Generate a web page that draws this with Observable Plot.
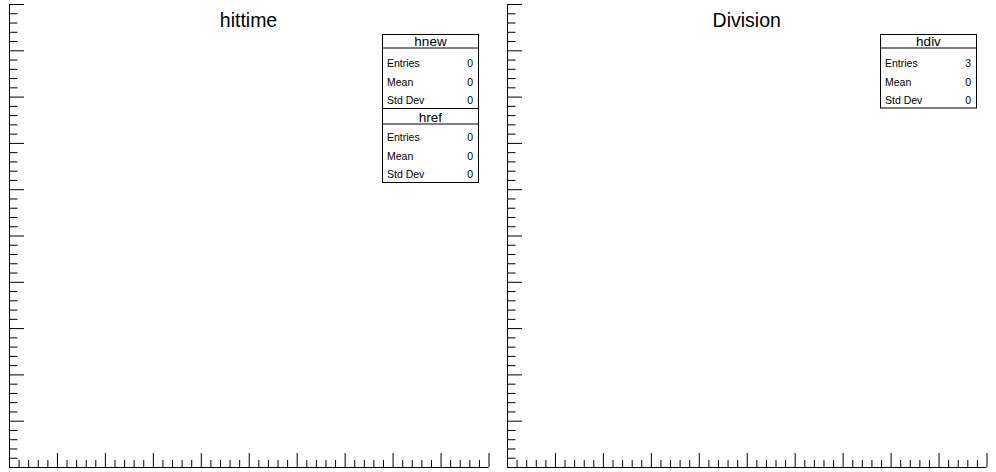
<!DOCTYPE html>
<html>
<head>
<meta charset="utf-8">
<script src="https://cdn.jsdelivr.net/npm/d3@7"></script>
<script src="https://cdn.jsdelivr.net/npm/@observablehq/plot@0.6"></script>
<style>
  html, body { margin: 0; padding: 0; background: #fff; }
  #canvas { position: relative; width: 996px; height: 472px; overflow: hidden; font-family: "Liberation Sans", Arial, Helvetica, sans-serif; }
  #canvas > svg, #canvas > div { position: absolute; top: 0; }
</style>
</head>
<body>
<div id="canvas"></div>
<script>
// ---- data ----
const padTitles = ["hittime", "Division"];
const xDomain = [0, 10];
const yDomain = [0, 10];
const xMajorTicks = d3.range(0, 10.001, 1);
const xMinorTicks = d3.range(0, 10.001, 0.2).filter(v => Math.abs(v - Math.round(v)) > 1e-6);
const yMajorTicks = d3.range(0, 10.001, 1);
const yMinorTicks = d3.range(0, 10.001, 0.2).filter(v => Math.abs(v - Math.round(v)) > 1e-6);

const statNames = ["hnew", "href", "hdiv"];
const statLabels = ["Entries", "Mean", "Std Dev"];
const hnewStats = [0, 0, 0];
const hrefStats = [0, 0, 0];
const hdivStats = [3, 0, 0];

// ---- pads ----
const W = 996, H = 472, padW = 498;
const mL = 9, mR = 9.5, mT = 4, mB = 5;
const innerW = padW - mL - mR, innerH = H - mT - mB;
const canvas = document.getElementById("canvas");

padTitles.forEach((t, i) => {
  const chart = Plot.plot({
    width: padW, height: H,
    marginLeft: mL, marginRight: mR, marginTop: mT, marginBottom: mB,
    x: {domain: xDomain, axis: null},
    y: {domain: yDomain, axis: null},
    style: {background: "transparent", overflow: "visible"},
    marks: [
      Plot.ruleX([xDomain[0]], {stroke: "black", strokeWidth: 1}),
      Plot.ruleY([yDomain[0]], {stroke: "black", strokeWidth: 1}),
      Plot.tickX(xMajorTicks, {x: d => d, stroke: "black", insetTop: innerH - 14}),
      Plot.tickX(xMinorTicks, {x: d => d, stroke: "black", insetTop: innerH - 7}),
      Plot.tickY(yMajorTicks, {y: d => d, stroke: "black", insetRight: innerW - 15}),
      Plot.tickY(yMinorTicks, {y: d => d, stroke: "black", insetRight: innerW - 8.5})
    ]
  });
  chart.style.left = (i * padW) + "px";
  canvas.appendChild(chart);
});

// ---- overlay: titles and statistics boxes ----
const svg = d3.select(canvas).append("svg")
  .attr("width", W).attr("height", H)
  .style("left", "0px")
  .style("font-family", '"Liberation Sans", Arial, Helvetica, sans-serif');

padTitles.forEach((t, i) => {
  svg.append("text")
    .attr("x", i === 0 ? 248.5 : 746.7)
    .attr("y", 27)
    .attr("text-anchor", "middle")
    .attr("font-size", 19.5)
    .attr("fill", "black")
    .text(t);
});

const boxes = [
  {name: statNames[0], values: hnewStats, x: 382.5, y: 34.5, h: 74, titleH: 13.5, titleBase: 11.3},
  {name: statNames[1], values: hrefStats, x: 382.5, y: 108.5, h: 74, titleH: 15.5, titleBase: 13},
  {name: statNames[2], values: hdivStats, x: 880.5, y: 34.5, h: 73.5, titleH: 13.5, titleBase: 11.3}
];
const boxW = 96;
boxes.forEach(b => {
  const g = svg.append("g");
  g.append("rect").attr("x", b.x).attr("y", b.y).attr("width", boxW).attr("height", b.h)
    .attr("fill", "white").attr("stroke", "black").attr("stroke-width", 1);
  g.append("line").attr("x1", b.x).attr("x2", b.x + boxW)
    .attr("y1", b.y + b.titleH).attr("y2", b.y + b.titleH)
    .attr("stroke", "black").attr("stroke-width", 1);
  g.append("text").attr("x", b.x + boxW / 2).attr("y", b.y + b.titleBase)
    .attr("text-anchor", "middle").attr("font-size", 13.5).text(b.name);
  statLabels.forEach((lab, k) => {
    const yy = b.y + 32.3 + k * 18.7;
    g.append("text").attr("x", b.x + 4.5).attr("y", yy).attr("font-size", 10.5).text(lab);
    g.append("text").attr("x", b.x + boxW - 5.5).attr("y", yy).attr("text-anchor", "end")
      .attr("font-size", 10.5).text(b.values[k]);
  });
});
</script>
</body>
</html>
